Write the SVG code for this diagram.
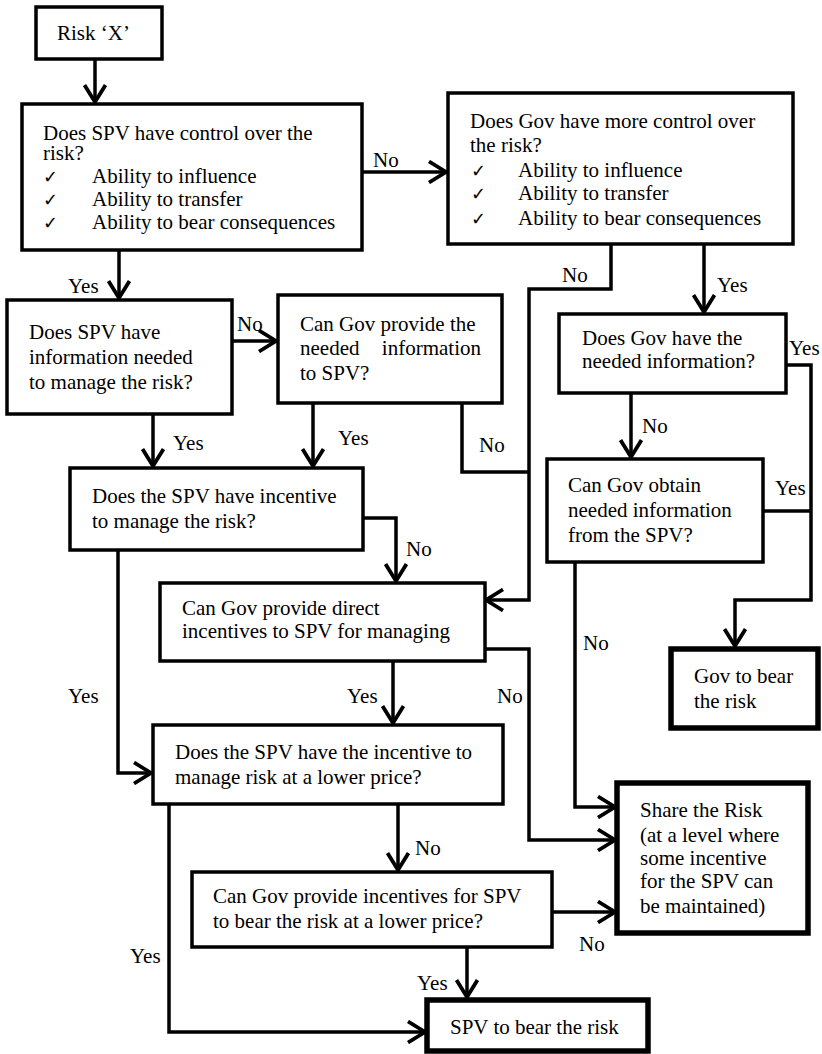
<svg xmlns="http://www.w3.org/2000/svg" width="822" height="1054" viewBox="0 0 822 1054">
<style>
text{font-family:"Liberation Serif","Times New Roman",serif;font-size:21px;fill:#000}
.ck{font-family:"DejaVu Sans",sans-serif;font-size:18px}
.box{fill:#fff;stroke:#000;stroke-width:3.5}
.end{fill:#fff;stroke:#000;stroke-width:5.5}
.con{fill:none;stroke:#000;stroke-width:3.5;marker-end:url(#arr)}
.ln{fill:none;stroke:#000;stroke-width:3.5}
</style>
<defs>
<marker id="arr" markerUnits="userSpaceOnUse" viewBox="0 0 20 24" markerWidth="20" markerHeight="24" refX="18" refY="12" orient="auto">
<path d="M1,1.5 L18,12 L1,22.5" fill="none" stroke="#000" stroke-width="3.8"/>
</marker>
</defs>
<rect width="822" height="1054" fill="#fff"/>
<g id="connectors">
<path class="con" d="M95,59 V102"/>
<path class="con" d="M362,172 H446"/>
<path class="con" d="M119,250 V298"/>
<path class="con" d="M611,244 V289 H529 V600 H486"/>
<path class="ln" d="M462,403 V472 H529"/>
<path class="con" d="M704,244 V312"/>
<path class="con" d="M232,341 H276"/>
<path class="con" d="M153,414 V466"/>
<path class="con" d="M313,403 V466"/>
<path class="con" d="M363,518 H396 V581"/>
<path class="con" d="M118,550 V773 H151"/>
<path class="con" d="M393,661 V723"/>
<path class="con" d="M485,649 H529 V840 H615"/>
<path class="con" d="M631,393 V457"/>
<path class="con" d="M786,365 H811 V600 H735 V646"/>
<path class="ln" d="M763,511 H811"/>
<path class="con" d="M575,562 V807 H615"/>
<path class="con" d="M398,804 V870"/>
<path class="con" d="M169,804 V1032 H425"/>
<path class="con" d="M552,912 H615"/>
<path class="con" d="M467,947 V997"/>
<text x="373" y="167">No</text>
<text x="68" y="293">Yes</text>
<text x="237" y="331">No</text>
<text x="173" y="450">Yes</text>
<text x="338" y="445">Yes</text>
<text x="562" y="282">No</text>
<text x="717" y="292">Yes</text>
<text x="789" y="355">Yes</text>
<text x="642" y="433">No</text>
<text x="479" y="452">No</text>
<text x="775" y="495">Yes</text>
<text x="406" y="556">No</text>
<text x="583" y="650">No</text>
<text x="68" y="703">Yes</text>
<text x="347" y="703">Yes</text>
<text x="497" y="703">No</text>
<text x="415" y="855">No</text>
<text x="130" y="963">Yes</text>
<text x="579" y="951">No</text>
<text x="417" y="990">Yes</text>
</g>
<g id="risk">
<rect class="box" x="36" y="7" width="126" height="52"/>
<text x="57" y="40">Risk ‘X’</text>
</g>
<g id="spv-control">
<rect class="box" x="22" y="104" width="340" height="146"/>
<text x="43" y="140">Does SPV have control over the</text>
<text x="43" y="160">risk?</text>
<text class="ck" x="43" y="183">✓</text><text x="92" y="183">Ability to influence</text>
<text class="ck" x="43" y="206">✓</text><text x="92" y="206">Ability to transfer</text>
<text class="ck" x="43" y="229">✓</text><text x="92" y="229">Ability to bear consequences</text>
</g>
<g id="gov-control">
<rect class="box" x="448" y="93" width="345" height="151"/>
<text x="470" y="128">Does Gov have more control over</text>
<text x="470" y="152">the risk?</text>
<text class="ck" x="471" y="177">✓</text><text x="518" y="177">Ability to influence</text>
<text class="ck" x="471" y="200">✓</text><text x="518" y="200">Ability to transfer</text>
<text class="ck" x="471" y="225">✓</text><text x="518" y="225">Ability to bear consequences</text>
</g>
<g id="spv-info">
<rect class="box" x="7" y="300" width="225" height="114"/>
<text x="29" y="339">Does SPV have</text>
<text x="29" y="364">information needed</text>
<text x="29" y="389">to manage the risk?</text>
</g>
<g id="gov-provide-info">
<rect class="box" x="278" y="295" width="224" height="108"/>
<text x="300" y="331">Can Gov provide the</text>
<text x="300" y="355">needed</text><text x="481" y="355" text-anchor="end">information</text>
<text x="300" y="380">to SPV?</text>
</g>
<g id="gov-info">
<rect class="box" x="559" y="314" width="227" height="79"/>
<text x="582" y="345">Does Gov have the</text>
<text x="582" y="368">needed information?</text>
</g>
<g id="gov-obtain">
<rect class="box" x="547" y="459" width="216" height="103"/>
<text x="568" y="492">Can Gov obtain</text>
<text x="568" y="517">needed information</text>
<text x="568" y="542">from the SPV?</text>
</g>
<g id="spv-incentive">
<rect class="box" x="70" y="468" width="293" height="82"/>
<text x="92" y="503">Does the SPV have incentive</text>
<text x="92" y="528">to manage the risk?</text>
</g>
<g id="gov-direct">
<rect class="box" x="160" y="583" width="325" height="78"/>
<text x="182" y="615">Can Gov provide direct</text>
<text x="182" y="638">incentives to SPV for managing</text>
</g>
<g id="gov-bear">
<rect class="end" x="671" y="649" width="147" height="79"/>
<text x="694" y="683">Gov to bear</text>
<text x="694" y="708">the risk</text>
</g>
<g id="spv-lower">
<rect class="box" x="153" y="725" width="350" height="79"/>
<text x="175" y="759">Does the SPV have the incentive to</text>
<text x="175" y="784">manage risk at a lower price?</text>
</g>
<g id="share">
<rect class="end" x="617" y="783" width="191" height="150"/>
<text x="640" y="817">Share the Risk</text>
<text x="640" y="842">(at a level where</text>
<text x="640" y="865">some incentive</text>
<text x="640" y="888">for the SPV can</text>
<text x="640" y="913">be maintained)</text>
</g>
<g id="gov-lower">
<rect class="box" x="192" y="872" width="360" height="75"/>
<text x="213" y="903">Can Gov provide incentives for SPV</text>
<text x="213" y="928">to bear the risk at a lower price?</text>
</g>
<g id="spv-bear">
<rect class="end" x="427" y="1000" width="221" height="51"/>
<text x="450" y="1034">SPV to bear the risk</text>
</g>
</svg>
